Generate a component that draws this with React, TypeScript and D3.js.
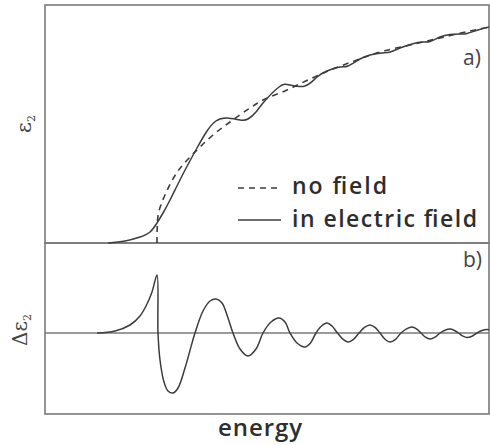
import React from "react";
import * as d3 from "d3";

// energy in arbitrary units (0 = left edge of the frame)
const noFieldEnergy = [1.12, 1.122, 1.135, 1.2, 1.33, 1.52, 1.68, 1.85, 2.05, 2.18, 2.42, 2.65, 2.88, 3.12, 3.35, 3.65, 3.95, 4.25, 4.44];
const noFieldEps = [0, 1.5, 3.0, 4.8, 7.2, 9.3, 10.8, 12.1, 13.5, 14.3, 15.3, 16.4, 17.4, 18.3, 19.1, 19.8, 20.5, 21.2, 21.6];

const fieldEnergy = [0.63, 0.8, 0.95, 1.05, 1.12, 1.18, 1.25, 1.38, 1.52, 1.62, 1.71, 1.82, 1.95, 2.03, 2.11, 2.18, 2.34, 2.45, 2.6, 2.72, 2.82, 2.95, 3.03, 3.15, 3.25, 3.37, 3.45, 3.55, 3.67, 3.77, 3.85, 3.95, 4.05, 4.15, 4.22, 4.33, 4.44];
const fieldEps = [0, 0.2, 0.6, 1.1, 2.0, 3.0, 4.3, 6.9, 9.5, 11.2, 12.2, 12.5, 12.3, 12.4, 13.1, 14.0, 15.6, 15.8, 15.7, 16.6, 17.2, 17.6, 17.7, 18.4, 18.8, 19.0, 19.1, 19.5, 19.9, 20.1, 20.15, 20.6, 20.85, 20.9, 20.95, 21.3, 21.6];

const diffEnergy = [0.52, 0.7, 0.85, 0.95, 1.02, 1.07, 1.12, 1.13, 1.15, 1.19, 1.23, 1.28, 1.33, 1.4, 1.5, 1.58, 1.65, 1.71, 1.77, 1.83, 1.88, 1.95, 2.03, 2.11, 2.18, 2.26, 2.34, 2.4, 2.45, 2.52, 2.6, 2.655, 2.71, 2.765, 2.82, 2.87, 2.925, 2.98, 3.03, 3.085, 3.14, 3.195, 3.25, 3.3, 3.35, 3.4, 3.45, 3.505, 3.56, 3.615, 3.67, 3.715, 3.76, 3.805, 3.85, 3.9, 3.95, 4.0, 4.05, 4.09, 4.135, 4.18, 4.22, 4.27, 4.32, 4.37, 4.42, 4.44];
const diffEps = [0, 0.2, 0.8, 1.7, 2.9, 4.1, 5.8, 0, -2.7, -4.9, -5.8, -6.0, -5.5, -3.5, 0, 2.2, 3.2, 3.4, 3.0, 1.5, 0, -1.6, -2.3, -1.6, 0, 1.1, 1.5, 1.1, 0, -1.0, -1.4, -1.0, 0, 0.7, 1.0, 0.7, 0, -0.63, -0.9, -0.63, 0, 0.56, 0.8, 0.56, 0, -0.63, -0.9, -0.63, 0, 0.42, 0.6, 0.42, 0, -0.42, -0.6, -0.42, 0, 0.28, 0.4, 0.28, 0, -0.32, -0.45, -0.32, 0, 0.25, 0.35, 0.33];

const legendLabels = ["no field", "in electric field"];
const panelLabels = ["a)", "b)"];

const W = 490;
const H = 445;
const left = 45;
const right = 489;
const topY = 5;
const midY = 243;
const bottomY = 414;

const frameColor = "#7a7a7a";
const lineColor = "#3c3c3c";
const textColor = "#2e2e2e";

export default function App() {
  const x = d3.scaleLinear().domain([0, 4.44]).range([left, right]);
  const yTop = d3.scaleLinear().domain([0, 23.8]).range([midY, topY]);
  const yBot = d3.scaleLinear().domain([-8.1, 9.0]).range([bottomY, midY]);

  const dashLine = d3
    .line<[number, number]>()
    .x(d => x(d[0]))
    .y(d => yTop(d[1]))
    .curve(d3.curveCatmullRom.alpha(0.5));

  const fieldLine = d3
    .line<[number, number]>()
    .x(d => x(d[0]))
    .y(d => yTop(d[1]))
    .curve(d3.curveNatural);

  const botLine = d3
    .line<[number, number]>()
    .x(d => x(d[0]))
    .y(d => yBot(d[1]))
    .curve(d3.curveCatmullRom.alpha(0.5));

  const noField = noFieldEnergy.map((e, i) => [e, noFieldEps[i]] as [number, number]);
  const inField = fieldEnergy.map((e, i) => [e, fieldEps[i]] as [number, number]);
  const diff = diffEnergy.map((e, i) => [e, diffEps[i]] as [number, number]);

  return (
    <svg width={W} height={H} style={{ position: "absolute", left: 0, top: 0, background: "#fff" }}>
      {/* panel frames */}
      <rect x={left} y={topY} width={right - left} height={midY - topY} fill="none" stroke={frameColor} strokeWidth={1.6} />
      <rect x={left} y={midY} width={right - left} height={bottomY - midY} fill="none" stroke={frameColor} strokeWidth={1.6} />
      <line x1={left} x2={right} y1={yBot(0)} y2={yBot(0)} stroke={frameColor} strokeWidth={1.4} />

      {/* curves */}
      <path d={dashLine(noField) || ""} fill="none" stroke={lineColor} strokeWidth={1.6} strokeDasharray="6,5" />
      <path d={fieldLine(inField) || ""} fill="none" stroke={lineColor} strokeWidth={1.5} />
      <path d={botLine(diff) || ""} fill="none" stroke={lineColor} strokeWidth={1.5} />

      {/* legend */}
      <line x1={238} x2={281} y1={188} y2={188} stroke={lineColor} strokeWidth={1.6} strokeDasharray="6,5" />
      <line x1={238} x2={281} y1={220} y2={220} stroke={lineColor} strokeWidth={1.5} />
      {legendLabels.map((t, i) => (
        <text key={t} x={292} y={194 + i * 33} fontFamily="Open Sans" fontWeight={600} fontSize={23}
          fill={textColor} textLength={i === 0 ? 95 : 185} lengthAdjust="spacing">
          {t}
        </text>
      ))}

      {/* panel labels */}
      {panelLabels.map((t, i) => (
        <text key={t} x={463} y={i === 0 ? 65 : 267} fontFamily="Open Sans" fontSize={21} fill="#444">
          {t}
        </text>
      ))}

      {/* axis labels */}
      <text transform="translate(31,124) rotate(-90)" textAnchor="middle" fontFamily="DejaVu Serif" fontSize={21} fill="#444">
        ε<tspan fontSize={11} dy={4}>2</tspan>
      </text>
      <text transform="translate(27,330) rotate(-90)" textAnchor="middle" fontFamily="DejaVu Serif" fontSize={20} fill="#444">
        Δε<tspan fontSize={11} dy={4}>2</tspan>
      </text>
      <text x={260} y={436} textAnchor="middle" fontFamily="Open Sans" fontWeight={600} fontSize={24}
        fill={textColor} textLength={84} lengthAdjust="spacing">
        energy
      </text>
    </svg>
  );
}
